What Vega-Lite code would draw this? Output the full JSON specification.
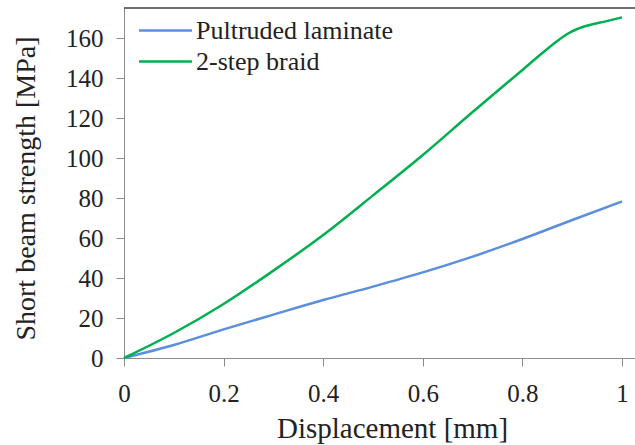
{
  "$schema": "https://vega.github.io/schema/vega-lite/v6.json",
  "width": 511,
  "height": 350,
  "autosize": {"type": "none"},
  "padding": {"left": 124, "top": 8, "right": 0, "bottom": 87},
  "background": "white",
  "config": {
    "view": {"stroke": null},
    "font": "Liberation Serif",
    "text": {"font": "Liberation Serif"},
    "axis": {"labelFont": "Liberation Serif", "titleFont": "Liberation Serif", "labelColor": "#222222", "titleColor": "#222222", "titleFontWeight": "normal", "domainColor": "#8c8c8c", "tickColor": "#8c8c8c", "grid": false},
    "legend": {"labelFont": "Liberation Serif"}
  },
  "datasets": {
    "curves": [
      {"d": 0, "s": 0, "series": "Pultruded laminate"},
      {"d": 0.1, "s": 6.5, "series": "Pultruded laminate"},
      {"d": 0.2, "s": 14.3, "series": "Pultruded laminate"},
      {"d": 0.3, "s": 21.7, "series": "Pultruded laminate"},
      {"d": 0.4, "s": 29, "series": "Pultruded laminate"},
      {"d": 0.5, "s": 35.7, "series": "Pultruded laminate"},
      {"d": 0.6, "s": 42.8, "series": "Pultruded laminate"},
      {"d": 0.7, "s": 50.7, "series": "Pultruded laminate"},
      {"d": 0.8, "s": 59.5, "series": "Pultruded laminate"},
      {"d": 0.9, "s": 69, "series": "Pultruded laminate"},
      {"d": 1.0, "s": 78.3, "series": "Pultruded laminate"},
      {"d": 0, "s": 0, "series": "2-step braid"},
      {"d": 0.1, "s": 12.5, "series": "2-step braid"},
      {"d": 0.2, "s": 27, "series": "2-step braid"},
      {"d": 0.3, "s": 43.7, "series": "2-step braid"},
      {"d": 0.4, "s": 61.5, "series": "2-step braid"},
      {"d": 0.5, "s": 81.3, "series": "2-step braid"},
      {"d": 0.6, "s": 101.5, "series": "2-step braid"},
      {"d": 0.7, "s": 123, "series": "2-step braid"},
      {"d": 0.8, "s": 144, "series": "2-step braid"},
      {"d": 0.84, "s": 152.5, "series": "2-step braid"},
      {"d": 0.87, "s": 158.5, "series": "2-step braid"},
      {"d": 0.89, "s": 162, "series": "2-step braid"},
      {"d": 0.91, "s": 164.5, "series": "2-step braid"},
      {"d": 0.935, "s": 166.5, "series": "2-step braid"},
      {"d": 0.965, "s": 168.2, "series": "2-step braid"},
      {"d": 1.0, "s": 170.3, "series": "2-step braid"}
    ],
    "frame": [{"top": 175}]
  },
  "layer": [
    {
      "data": {"name": "frame"},
      "mark": {"type": "rule", "color": "#404040", "strokeWidth": 1.5},
      "encoding": {"y": {"field": "top", "type": "quantitative", "scale": {"domain": [0, 175], "nice": false}}}
    },
    {
      "data": {"name": "curves"},
      "mark": {"type": "line", "interpolate": "monotone", "strokeWidth": 2.5},
      "encoding": {
        "x": {
          "field": "d", "type": "quantitative",
          "scale": {"domain": [0, 1.026], "nice": false},
          "axis": {"title": "Displacement [mm]", "values": [0, 0.2, 0.4, 0.6, 0.8, 1], "format": "~g", "labelFont": "Liberation Serif", "titleFont": "Liberation Serif", "labelFontSize": 25, "titleFontSize": 29, "tickSize": 8, "labelPadding": 15, "titleX": 268, "titleY": 79, "titleBaseline": "alphabetic", "labelFlush": false}
        },
        "y": {
          "field": "s", "type": "quantitative",
          "scale": {"domain": [0, 175], "nice": false},
          "axis": {"title": "Short beam strength [MPa]", "values": [0, 20, 40, 60, 80, 100, 120, 140, 160], "labelFont": "Liberation Serif", "titleFont": "Liberation Serif", "labelFontSize": 25, "titleFontSize": 28, "tickSize": 8, "labelPadding": 13, "titleX": -84, "titleY": 180, "labelFlush": false}
        },
        "color": {
          "field": "series", "type": "nominal",
          "scale": {"domain": ["Pultruded laminate", "2-step braid"], "range": ["#5B8FDB", "#00B050"]},
          "legend": {"title": null, "orient": "none", "legendX": 27, "legendY": 8, "symbolType": "M-2,0H2", "symbolSize": 700, "symbolStrokeWidth": 2.5, "labelFont": "Liberation Serif", "labelFontSize": 26, "labelLimit": 400, "labelColor": "#222222", "labelOffset": 16, "rowPadding": 3, "padding": 0}
        }
      }
    }
  ]
}
